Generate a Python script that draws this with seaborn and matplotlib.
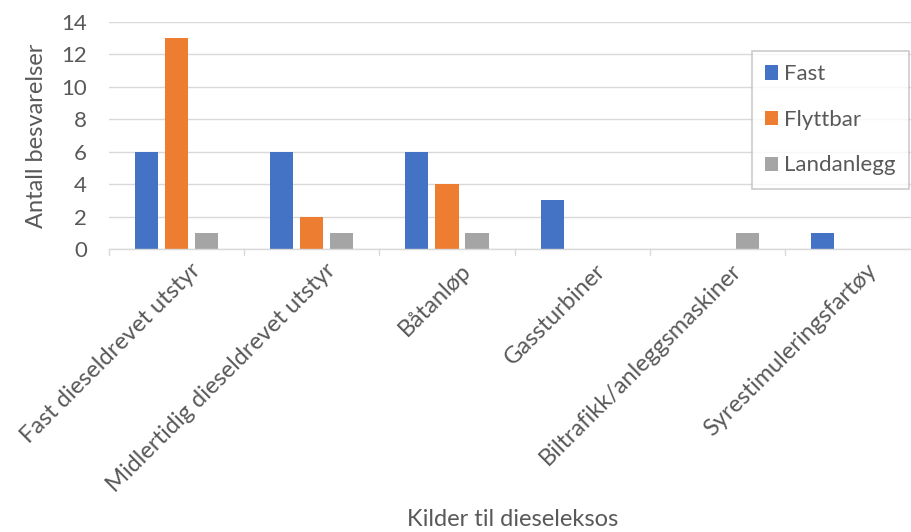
import matplotlib
matplotlib.use("Agg")
import matplotlib.pyplot as plt
import matplotlib.transforms as mtransforms
import seaborn as sns
import pandas as pd

categories = ["Fast dieseldrevet utstyr", "Midlertidig dieseldrevet utstyr", "Båtanløp",
              "Gassturbiner", "Biltrafikk/anleggsmaskiner", "Syrestimuleringsfartøy"]
series = ["Fast", "Flyttbar", "Landanlegg"]
fast = [6, 6, 6, 3, 0, 1]
flyttbar = [13, 2, 4, 0, 0, 0]
landanlegg = [1, 1, 1, 0, 1, 0]
colors = ["#4472C4", "#ED7D31", "#A5A5A5"]

rows = []
for s, vals in zip(series, [fast, flyttbar, landanlegg]):
    for c, v in zip(categories, vals):
        rows.append({"Kategori": c, "Serie": s, "Verdi": v})
df = pd.DataFrame(rows)

sns.set_theme(style="white")
plt.rcParams["font.family"] = ["Lato", "DejaVu Sans"]
txt = "#595959"

fig = plt.figure(figsize=(9.12, 5.32), dpi=100)
ax = fig.add_axes([109/912, 1-249/532, 1-109/912, (249-22)/532])

sns.barplot(data=df, x="Kategori", y="Verdi", hue="Serie", hue_order=series,
            order=categories, palette=colors, width=0.667, gap=0.23, ax=ax,
            saturation=1, edgecolor="none")

ax.set_ylim(0, 14)
ax.set_yticks(range(0, 15, 2))
ax.set_xlim(-0.5, 5.44)
ax.yaxis.grid(True, color="#D9D9D9", linewidth=1)
ax.set_axisbelow(True)
for sp in ["top", "right", "left"]:
    ax.spines[sp].set_visible(False)
ax.spines["bottom"].set_color("#D9D9D9")
ax.spines["bottom"].set_linewidth(1)

ax.tick_params(axis="y", labelsize=16, colors=txt, length=0, pad=16)
ax.tick_params(axis="x", length=0)
ax.set_xticks(range(len(categories)))
offset = mtransforms.ScaledTranslation(13/100, -6/100, fig.dpi_scale_trans)
ax.set_xticklabels(categories, rotation=45, ha="right", va="top",
                   rotation_mode="anchor", fontsize=17, color=txt)
for lab in ax.get_xticklabels():
    lab.set_transform(lab.get_transform() + offset)

# category separator tick marks
for b in [i - 0.5 for i in range(len(categories) + 1)]:
    ax.plot([b, b], [0, -0.35], color="#D9D9D9", linewidth=1, clip_on=False)

ax.set_ylabel("Antall besvarelser", fontsize=17, color=txt, labelpad=10)
ax.set_xlabel("")
fig.text(513/912, 1-520/532, "Kilder til dieseleksos", ha="center", va="center",
         fontsize=17, color=txt)

leg = ax.legend(loc="upper left", bbox_to_anchor=((752-109)/803, (249-51)/227),
                fontsize=16, frameon=True, fancybox=False, handlelength=0.55,
                handleheight=0.6, labelspacing=1.15, borderpad=0.6,
                handletextpad=0.3, borderaxespad=0)
leg.get_frame().set_edgecolor("#BFBFBF")
leg.get_frame().set_linewidth(1.2)
for t in leg.get_texts():
    t.set_color(txt)

fig.savefig("out.png", dpi=100)
